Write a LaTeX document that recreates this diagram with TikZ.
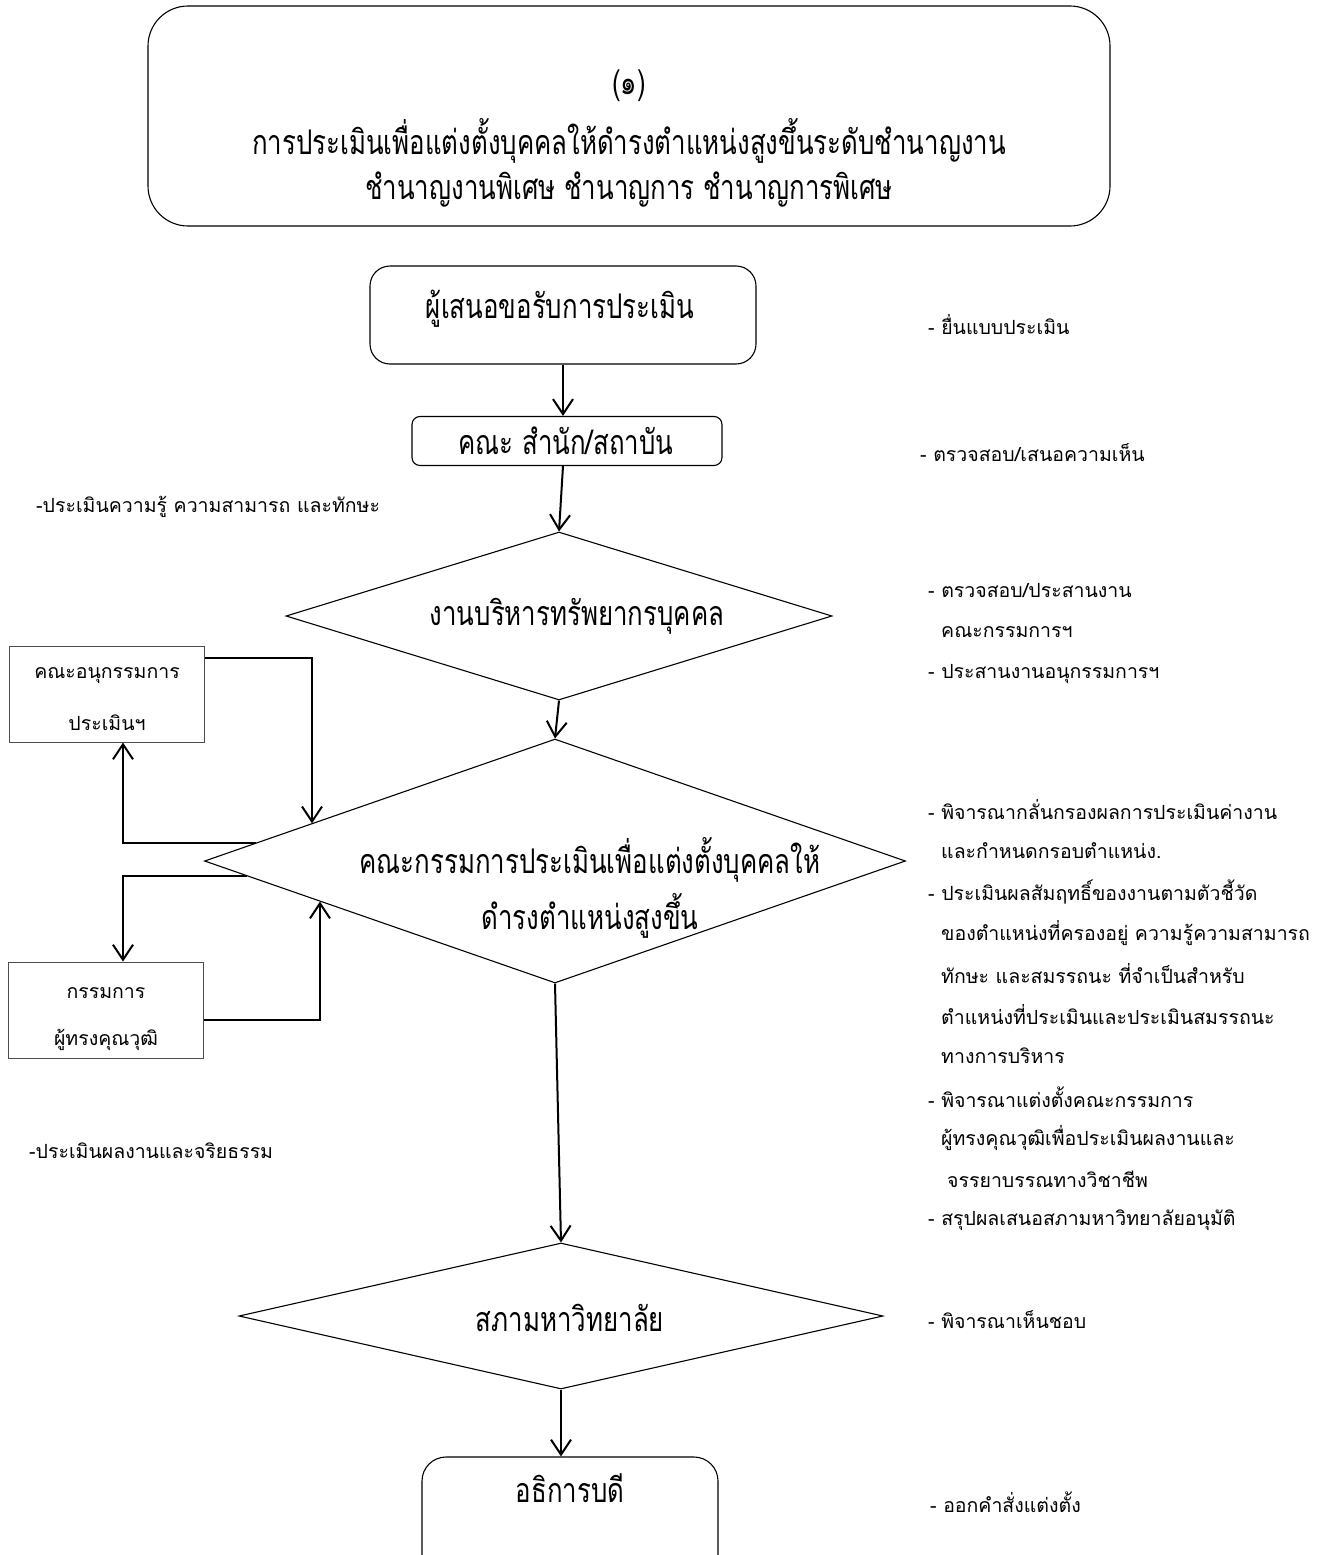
\documentclass[tikz,border=0pt]{standalone}
\usepackage{fontspec}
\usetikzlibrary{shapes.geometric,arrows.meta}
\newfontfamily\thaifont[Script=Thai]{Loma}
\newfontfamily\thaicond[Script=Thai,FakeStretch=0.76]{Loma}
\begin{document}
\begin{tikzpicture}[x=1pt,y=-1pt,
  big/.style={font=\thaicond\fontsize{34}{40}\selectfont, inner sep=0pt},
  note/.style={font=\thaifont\fontsize{19.5}{23}\selectfont, inner sep=0pt, anchor=west},
  small/.style={font=\thaifont\fontsize{19.5}{23}\selectfont, inner sep=0pt},
  rbox/.style={draw, line width=1.1pt, inner sep=0pt},
  dia/.style={diamond, draw, line width=1.1pt, inner sep=0pt},
  lbox/.style={draw=black!70, line width=1pt, inner sep=0pt, minimum width=195pt, minimum height=96pt},
  conn/.style={line width=2pt},
  arr/.style={line width=2pt, -{Straight Barb[length=15pt,width=20pt,line width=2pt]}}]
\useasboundingbox (0,0) rectangle (1317,1555);
\fill[white] (0,0) rectangle (1317,1555);

% title
\node[rbox, rounded corners=40pt, minimum width=962pt, minimum height=220pt] (title) at (629,116) {};
\node[big] (t1) at (629,86) {(๑)};
\node[big] (t2) at (629,141) {การประเมินเพื่อแต่งตั้งบุคคลให้ดำรงตำแหน่งสูงขึ้นระดับชำนาญงาน};
\node[big] (t3) at (629,190) {ชำนาญงานพิเศษ ชำนาญการ ชำนาญการพิเศษ};

% main flow
\node[rbox, rounded corners=20pt, minimum width=386pt, minimum height=98pt] (b1) at (563,315) {};
\node[big] (b1t) at (560,309) {ผู้เสนอขอรับการประเมิน};
\node[rbox, rounded corners=8pt, minimum width=310pt, minimum height=49pt] (b2) at (567,441) {};
\node[big] (b2t) at (566,441) {คณะ สำนัก/สถาบัน};
\node[dia, minimum width=546pt, minimum height=168pt] (d1) at (559,616) {};
\node[big] (d1t) at (577,616) {งานบริหารทรัพยากรบุคคล};
\node[dia, minimum width=701pt, minimum height=244pt] (d2) at (555,861) {};
\node[big] (d2t1) at (590,860) {คณะกรรมการประเมินเพื่อแต่งตั้งบุคคลให้};
\node[big] (d2t2) at (590,916) {ดำรงตำแหน่งสูงขึ้น};
\node[dia, minimum width=644pt, minimum height=146pt] (d3) at (561,1316) {};
\node[big] (d3t) at (570,1318) {สภามหาวิทยาลัย};
\node[rbox, rounded corners=24pt, minimum width=296pt, minimum height=130pt] (b3) at (570,1522) {};
\node[big] (b3t) at (570,1488) {อธิการบดี};

% left boxes
\node[lbox] (l1) at (107,694) {};
\node[small] (l1a) at (107,676) {คณะอนุกรรมการ};
\node[small] (l1b) at (107,723) {ประเมินฯ};
\node[lbox] (l2) at (106,1010) {};
\node[small] (l2a) at (106,993) {กรรมการ};
\node[small] (l2b) at (106,1040) {ผู้ทรงคุณวุฒิ};

% connectors
\draw[arr] (b1.south) -- (b1.south |- b2.north);
\draw[arr] (b1.south |- b2.south) -- (d1.north);
\draw[arr] (d1.south) -- (d2.north);
\draw[arr] (d2.south) -- (d3.north);
\draw[arr] (d3.south) -- (d3.south |- b3.north);

\coordinate (p1) at (intersection of d2.west--d2.north and 312,0--312,1500);
\coordinate (p2) at (intersection of d2.west--d2.north and 0,843--1000,843);
\coordinate (p3) at (intersection of d2.west--d2.south and 0,876--1000,876);
\coordinate (p4) at (intersection of d2.west--d2.south and 320,0--320,1500);
\draw[arr] ([yshift=-12pt]l1.north east) -| (p1);
\draw[arr] (p2) -| ([xshift=16pt]l1.south);
\draw[arr] (p3) -| ([xshift=17pt]l2.north);
\draw[arr] ([yshift=-10pt]l2.east) -| (p4);

% notes
\node[note] (n1) at (928,325) {- ยื่นแบบประเมิน};
\node[note] (n2) at (920,453) {- ตรวจสอบ/เสนอความเห็น};
\node[note] (n3) at (36,507) {-ประเมินความรู้ ความสามารถ และทักษะ};
\node[note] (n4) at (928,590) {- ตรวจสอบ/ประสานงาน};
\node[note] (n5) at (941,632) {คณะกรรมการฯ};
\node[note] (n6) at (928,674) {- ประสานงานอนุกรรมการฯ};
\node[note] (n7) at (928,810) {- พิจารณากลั่นกรองผลการประเมินค่างาน};
\node[note] (n8) at (941,851) {และกำหนดกรอบตำแหน่ง.};
\node[note] (n9) at (928,892) {- ประเมินผลสัมฤทธิ์ของงานตามตัวชี้วัด};
\node[note] (n10) at (941,933) {ของตำแหน่งที่ครองอยู่ ความรู้ความสามารถ};
\node[note] (n11) at (941,974) {ทักษะ และสมรรถนะ ที่จำเป็นสำหรับ};
\node[note] (n12) at (941,1015) {ตำแหน่งที่ประเมินและประเมินสมรรถนะ};
\node[note] (n13) at (941,1056) {ทางการบริหาร};
\node[note] (n14) at (928,1097) {- พิจารณาแต่งตั้งคณะกรรมการ};
\node[note] (n15) at (941,1138) {ผู้ทรงคุณวุฒิเพื่อประเมินผลงานและ};
\node[note] (n16) at (947,1179) {จรรยาบรรณทางวิชาชีพ};
\node[note] (n17) at (928,1220) {- สรุปผลเสนอสภามหาวิทยาลัยอนุมัติ};
\node[note] (n18) at (29,1151) {-ประเมินผลงานและจริยธรรม};
\node[note] (n19) at (928,1320) {- พิจารณาเห็นชอบ};
\node[note] (n20) at (930,1502) {- ออกคำสั่งแต่งตั้ง};
\end{tikzpicture}
\end{document}
